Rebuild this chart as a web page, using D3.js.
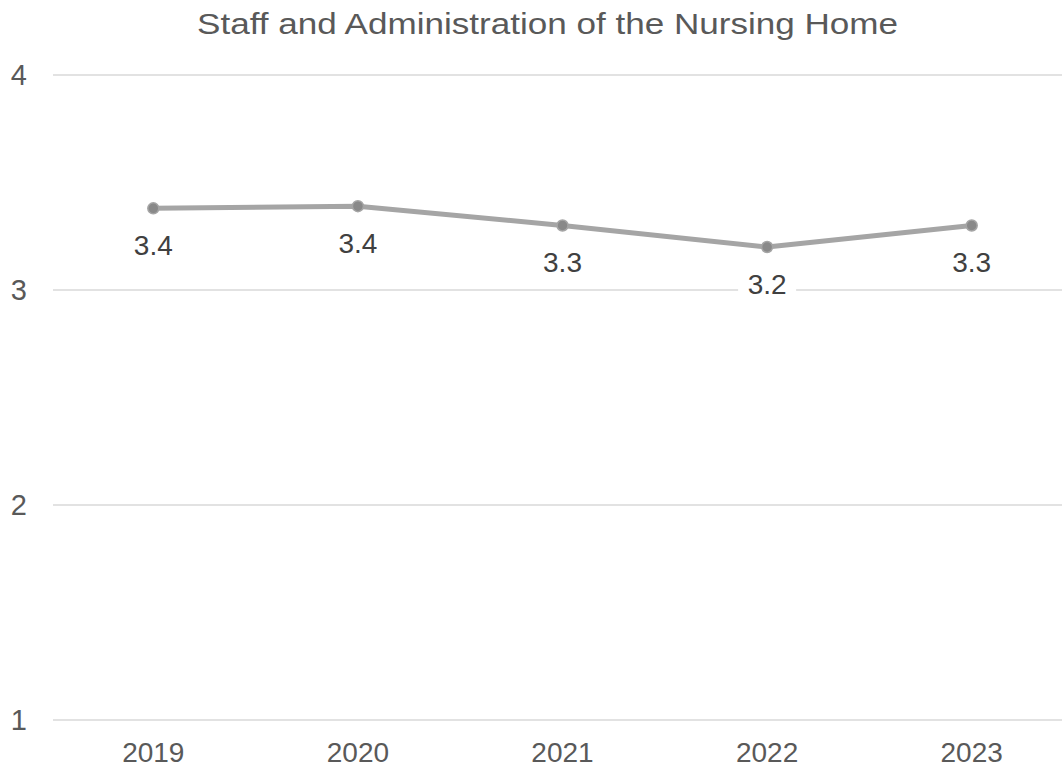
<!DOCTYPE html>
<html lang="en">
<head>
<meta charset="UTF-8">
<title>Staff and Administration of the Nursing Home</title>
<script src="https://d3js.org/d3.v7.min.js"></script>
<style>
  body { margin: 0; background: #fff; }
  text { font-family: "Liberation Sans", Arial, sans-serif; }
  .grid line { stroke: #d9d9d9; stroke-width: 1.5px; }
  .x-label { fill: #595959; font-size: 28px; }
  .y-label { fill: #595959; font-size: 29px; }
  .data-label { fill: #404040; font-size: 28px; }
  .title { fill: #595959; font-size: 30px; }
</style>
</head>
<body>
<script>
  const years = ["2019", "2020", "2021", "2022", "2023"];
  const scores = [3.38, 3.39, 3.30, 3.20, 3.30];
  const labels = ["3.4", "3.4", "3.3", "3.2", "3.3"];
  const yTicks = [1, 2, 3, 4];

  const width = 1062;
  const height = 770;
  const plotLeft = 51, plotRight = 1074, plotTop = 75, plotBottom = 720;

  const svg = d3.select("body")
    .append("svg")
    .attr("width", width)
    .attr("height", height);

  const x = d3.scaleBand()
    .domain(years)
    .range([plotLeft, plotRight]);

  const y = d3.scaleLinear()
    .domain([1, 4])
    .range([plotBottom, plotTop]);

  const cx = d => x(d) + x.bandwidth() / 2;

  // gridlines
  svg.append("g")
    .attr("class", "grid")
    .selectAll("line")
    .data(yTicks)
    .enter()
    .append("line")
    .attr("x1", plotLeft + 2)
    .attr("x2", width)
    .attr("y1", d => y(d))
    .attr("y2", d => y(d));

  // y labels
  svg.selectAll(".ylab")
    .data(yTicks)
    .enter()
    .append("text")
    .attr("class", "y-label")
    .attr("x", 27)
    .attr("y", d => y(d))
    .attr("dy", "0.35em")
    .attr("text-anchor", "end")
    .text(d => d);

  // x labels
  svg.selectAll(".xlab")
    .data(years)
    .enter()
    .append("text")
    .attr("class", "x-label")
    .attr("x", d => cx(d))
    .attr("y", 762)
    .attr("text-anchor", "middle")
    .text(d => d);

  const pts = years.map((yr, i) => ({ yr, v: scores[i], label: labels[i] }));

  const line = d3.line()
    .x(d => cx(d.yr))
    .y(d => y(d.v));

  svg.append("path")
    .datum(pts)
    .attr("fill", "none")
    .attr("stroke", "#a5a5a5")
    .attr("stroke-width", 5)
    .attr("stroke-linejoin", "round")
    .attr("d", line);

  svg.selectAll(".dot")
    .data(pts)
    .enter()
    .append("circle")
    .attr("cx", d => cx(d.yr))
    .attr("cy", d => y(d.v))
    .attr("r", 5.5)
    .attr("fill", "#898989")
    .attr("stroke", "#a5a5a5")
    .attr("stroke-width", 1.5);

  // data labels, white box hides the gridline behind them
  const lab = svg.selectAll(".lab")
    .data(pts)
    .enter()
    .append("g")
    .attr("transform", d => `translate(${cx(d.yr)},${y(d.v) + 37})`);

  lab.append("rect")
    .attr("x", -29)
    .attr("y", -17)
    .attr("width", 58)
    .attr("height", 34)
    .attr("fill", "#fff");

  lab.append("text")
    .attr("class", "data-label")
    .attr("text-anchor", "middle")
    .attr("dy", "0.35em")
    .text(d => d.label);

  svg.append("text")
    .attr("class", "title")
    .attr("x", 197)
    .attr("y", 34)
    .attr("textLength", 701)
    .attr("lengthAdjust", "spacingAndGlyphs")
    .text("Staff and Administration of the Nursing Home");
</script>
</body>
</html>
